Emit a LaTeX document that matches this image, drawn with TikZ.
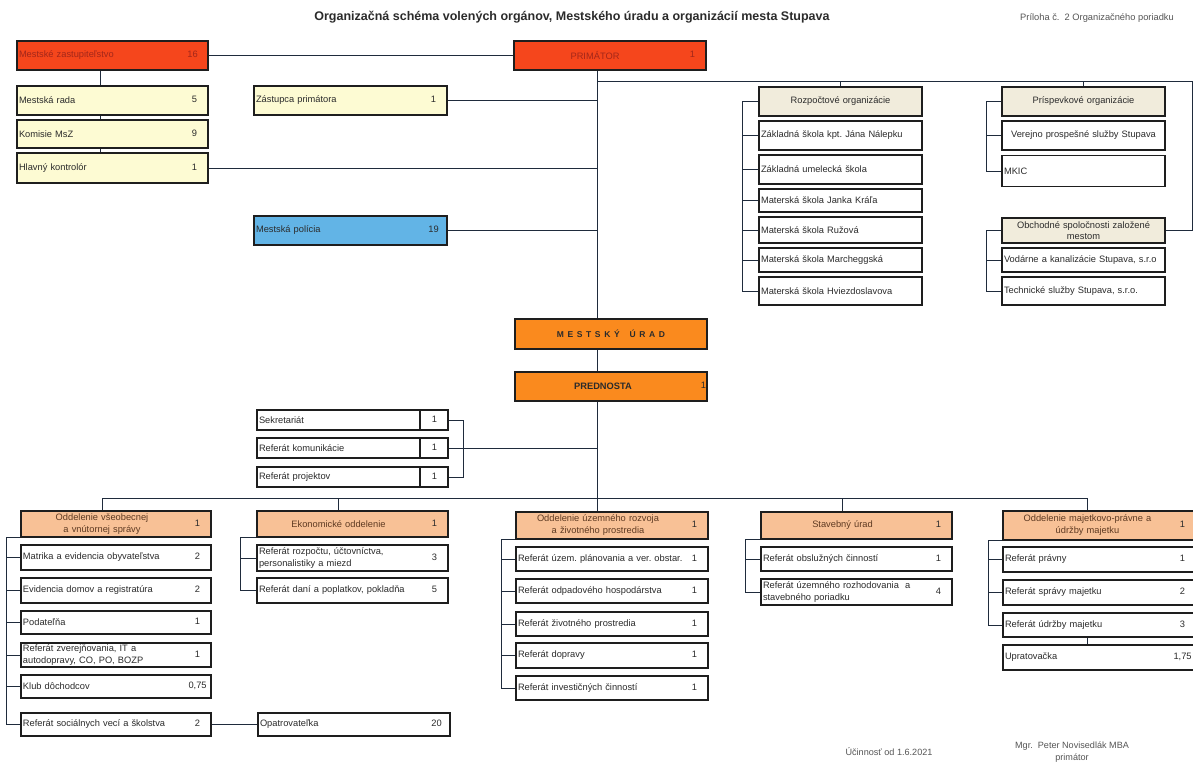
\documentclass[tikz,border=0pt]{standalone}
\usepackage{fontspec}
\setmainfont{Liberation Sans}
\frenchspacing
\definecolor{redfill}{HTML}{F5461C}
\definecolor{redtxt}{HTML}{A3271A}
\definecolor{yelfill}{HTML}{FDFBD3}
\definecolor{bluefill}{HTML}{62B4E6}
\definecolor{orgfill}{HTML}{FA8A1E}
\definecolor{hdrfill}{HTML}{F1ECDC}
\definecolor{depfill}{HTML}{F8C196}
\definecolor{deptxt}{HTML}{5E3A22}
\definecolor{txt}{HTML}{2B2B2B}
\definecolor{edge}{HTML}{1E1E1E}
\definecolor{linec}{HTML}{1F2B3C}
\definecolor{note}{HTML}{555555}
\tikzset{
  ubox/.style={draw=edge, line width=1.1pt, inner xsep=2pt, inner ysep=0pt,
               font=\fontsize{9.3}{11.5}\selectfont, text=txt, align=left},
  bw/.style={text width=#1pt-4pt},
  bh/.style={minimum height=#1pt},
  shl/.style={execute at begin node={\leftskip=0pt plus 1fil\rightskip=#1pt plus 1fil\parfillskip=0pt}},
  rbox/.style={ubox, fill=redfill, text=redtxt},
  ybox/.style={ubox, fill=yelfill},
  bbox/.style={ubox, fill=bluefill},
  obox/.style={ubox, fill=orgfill, align=center},
  hdbox/.style={ubox, fill=hdrfill, align=center},
  dbox/.style={ubox, fill=depfill, text=deptxt, align=center, shl=28,
               font=\fontsize{9.3}{12}\selectfont},
  wbox/.style={ubox, fill=white},
  numcell/.style={path picture={\draw[edge, line width=1.1pt]
      ([xshift=-28pt]path picture bounding box.north east) --
      ([xshift=-28pt]path picture bounding box.south east);}},
  num/.style={anchor=center, xshift=-14pt, yshift=1pt, inner sep=0pt, text=txt,
              font=\fontsize{9.3}{10.5}\selectfont},
  link/.style={draw=linec, line width=1pt},
}
\begin{document}
\begin{tikzpicture}[x=1pt, y=-1pt]
\useasboundingbox[fill=white] (0,0) rectangle (1193,764);
%
  \node [font=\fontsize{12.5}{14}\selectfont\bfseries, text=txt] at (572,17) (title) {Organizačná schéma volených orgánov, Mestského úradu a organizácií mesta Stupava};
  \node [font=\fontsize{9.3}{11}\selectfont, text=note] at (1097,18) (priloha) {Príloha č.~~2 Organizačného poriadku};
%
     \node [rbox, bw=191, bh=29, label={[num, text=redtxt, xshift=-2pt]east:16}] at (112.5,55.5) (zast) {Mestské zastupiteľstvo};
     \node [rbox, bw=192, bh=29, align=center, shl=30, label={[num, text=redtxt]east:1}] at (610,55.5) (prim) {PRIMÁTOR};
       \node [ybox, bw=191, bh=29, label={[num]east:5}] at (112.5,100.5) (rada) {Mestská rada};
       \node [ybox, bw=191, bh=28, label={[num]east:9}] at (112.5,134) (komis) {Komisie MsZ};
       \node [ybox, bw=191, bh=30, label={[num]east:1}] at (112.5,168) (kontr) {Hlavný kontrolór};
       \node [ybox, bw=193, bh=29, label={[num]east:1}] at (350.5,100.5) (zastup) {Zástupca primátora};
       \node [bbox, bw=193, bh=29, label={[num]east:19}] at (350.5,230.5) (polic) {Mestská polícia};
%
         \node [hdbox, bw=163, bh=29] at (840.5,101.5) (rozp) {Rozpočtové organizácie};
         \node [wbox, bw=163, bh=29] at (840.5,135.5) (zs1) {Základná škola kpt. Jána Nálepku};
         \node [wbox, bw=163, bh=29] at (840.5,169.5) (zus) {Základná umelecká škola};
         \node [wbox, bw=163, bh=23] at (840.5,200.5) (ms1) {Materská škola Janka Kráľa};
         \node [wbox, bw=163, bh=26] at (840.5,230) (ms2) {Materská škola Ružová};
         \node [wbox, bw=163, bh=24] at (840.5,260) (ms3) {Materská škola Marcheggská};
         \node [wbox, bw=163, bh=28] at (840.5,291) (ms4) {Materská škola Hviezdoslavova};
%
         \node [hdbox, bw=163, bh=29] at (1083.5,101.5) (prisp) {Príspevkové organizácie};
         \node [wbox, bw=163, bh=29, align=center] at (1083.5,135.5) (vps) {Verejno prospešné služby Stupava};
         \node [wbox, bw=163, bh=31] at (1083.5,171) (mkic) {MKIC};
         \node [hdbox, bw=163, bh=25] at (1083.5,230.5) (obch) {Obchodné spoločnosti založené\\mestom};
         \node [wbox, bw=163, bh=24] at (1083.5,260) (vod) {Vodárne a kanalizácie Stupava, s.r.o};
         \node [wbox, bw=163, bh=28] at (1083.5,291) (tech) {Technické služby Stupava, s.r.o.};
%
   \node [obox, bw=192, bh=30] at (611,334) (mu) {\bfseries\fontsize{8.5}{10}\selectfont\spaceskip=3.6pt M E S T S K Ý\hspace{10pt}Ú R A D};
   \node [obox, bw=192, bh=29, shl=16, label={[num, xshift=10pt]east:1}] at (611,386.5) (pred) {\bfseries PREDNOSTA};
   \node [wbox, numcell, bw=191, bh=20, label={[num]east:1}] at (352.5,420) (sekr) {Sekretariát};
   \node [wbox, numcell, bw=191, bh=20, label={[num]east:1}] at (352.5,448) (komun) {Referát komunikácie};
   \node [wbox, numcell, bw=191, bh=20, label={[num]east:1}] at (352.5,477) (proj) {Referát projektov};
%
  \node [dbox, bw=190, bh=26, label={[num]east:1}] at (116,524) (odd1) {Oddelenie všeobecnej\\a vnútornej správy};
  \node [wbox, bw=190, bh=25, label={[num]east:2}] at (116,557.5) (matr) {Matrika a evidencia obyvateľstva};
  \node [wbox, bw=190, bh=25, label={[num]east:2}] at (116,590.5) (evid) {Evidencia domov a registratúra};
  \node [wbox, bw=190, bh=23, label={[num]east:1}] at (116,622.5) (podat) {Podateľňa};
  \node [wbox, bw=190, bh=24, label={[num]east:1}] at (116,655) (zver) {Referát zverejňovania, IT a\\autodopravy, CO, PO, BOZP};
  \node [wbox, bw=190, bh=23, label={[num]east:{0,75}}] at (116,686.5) (klub) {Klub dôchodcov};
  \node [wbox, bw=190, bh=23, label={[num]east:2}] at (116,724.5) (soc) {Referát sociálnych vecí a školstva};
%
  \node [dbox, bw=191, bh=26, label={[num]east:1}] at (352.5,524) (ekon) {Ekonomické oddelenie};
  \node [wbox, bw=191, bh=26, label={[num]east:3}] at (352.5,558) (rozpr) {Referát rozpočtu, účtovníctva,\\personalistiky a miezd};
  \node [wbox, bw=191, bh=25, label={[num]east:5}] at (352.5,590.5) (dane) {Referát daní a poplatkov, pokladňa};
  \node [wbox, bw=192, bh=23, label={[num]east:20}] at (354,724.5) (opatr) {Opatrovateľka};
%
  \node [dbox, bw=192, bh=27, label={[num]east:1}] at (612,525.5) (uzem) {Oddelenie územného rozvoja\\a životného prostredia};
  \node [wbox, bw=192, bh=24, label={[num]east:1}] at (612,559) (u1) {Referát územ. plánovania a ver. obstar.};
  \node [wbox, bw=192, bh=24, label={[num]east:1}] at (612,591) (u2) {Referát odpadového hospodárstva};
  \node [wbox, bw=192, bh=24, label={[num]east:1}] at (612,624) (u3) {Referát životného prostredia};
  \node [wbox, bw=192, bh=25, label={[num]east:1}] at (612,655.5) (u4) {Referát dopravy};
  \node [wbox, bw=192, bh=24, label={[num]east:1}] at (612,688) (u5) {Referát investičných činností};
%
  \node [dbox, bw=191, bh=27, label={[num]east:1}] at (856.5,525.5) (stav) {Stavebný úrad};
  \node [wbox, bw=191, bh=24, label={[num]east:1}] at (856.5,559) (s1) {Referát obslužných činností};
  \node [wbox, bw=191, bh=26, label={[num]east:4}] at (856.5,592) (s2) {Referát územného rozhodovania~~a\\stavebného poriadku};
%
  \node [dbox, bw=197, bh=29, label={[num, xshift=-4pt]east:1}] at (1101.5,525.5) (maj) {Oddelenie majetkovo-právne a\\údržby majetku};
  \node [wbox, bw=197, bh=25, label={[num, xshift=-4pt]east:1}] at (1101.5,559.5) (m1) {Referát právny};
  \node [wbox, bw=197, bh=25, label={[num, xshift=-4pt]east:2}] at (1101.5,592.5) (m2) {Referát správy majetku};
  \node [wbox, bw=197, bh=24, label={[num, xshift=-4pt]east:3}] at (1101.5,625) (m3) {Referát údržby majetku};
  \node [wbox, bw=197, bh=25, label={[num, xshift=-4pt]east:{1,75}}] at (1101.5,657.5) (upr) {Upratovačka};
%
  \node [font=\fontsize{9.1}{11}\selectfont, text=note] at (889,752) (ucin) {Účinnosť od 1.6.2021};
  \node [font=\fontsize{9.1}{12}\selectfont, text=note, align=center] at (1072,752) (podpis) {Mgr.~~Peter Novisedlák MBA\\primátor};
%
\coordinate (trunk) at (597,0);
\coordinate (rtop) at (1192,81);
%
\draw[link] (zast) -- (prim);
\draw[link] ([xshift=-12pt]zast.south) -- ([xshift=-12pt]rada.north);
\draw[link] ([xshift=-12pt]rada.south) -- ([xshift=-12pt]komis.north);
\draw[link] ([xshift=-12pt]komis.south) -- ([xshift=-12pt]kontr.north);
\draw[link] (prim.south -| trunk) -- (mu.north -| trunk);
\draw[link] (mu.south -| trunk) -- (pred.north -| trunk);
\draw[link] (pred.south -| trunk) -- (uzem.north -| trunk);
\draw[link] (zastup.east) -- (zastup.east -| trunk);
\draw[link] (kontr.east) -- (kontr.east -| trunk);
\draw[link] (polic.east) -- (polic.east -| trunk);
\draw[link] (trunk |- rtop) -- (rtop) |- (obch.east);
\draw[link] (rozp.north) -- (rozp.north |- rtop);
\draw[link] (prisp.north) -- (prisp.north |- rtop);
%
\draw[link] (rozp.west) -- ++(-16,0) |- (ms4.west);
\foreach \n in {zs1,zus,ms1,ms2,ms3} \draw[link] (\n.west) -- ++(-16,0);
\draw[link] (prisp.west) -- ++(-15,0) |- (mkic.west);
\draw[link] (vps.west) -- ++(-15,0);
\draw[link] (obch.west) -- ++(-15,0) |- (tech.west);
\draw[link] (vod.west) -- ++(-15,0);
%
\draw[link] (sekr.east) -- ++(15,0) |- (proj.east);
\draw[link] (komun.east) -- (komun.east -| trunk);
%
\draw[link] ([xshift=-14pt]odd1.north) -- ++(0,-12) -| ([xshift=-14pt]maj.north);
\draw[link] ([xshift=-14pt]ekon.north) -- ++(0,-12);
\draw[link] ([xshift=-14pt]stav.north) -- ++(0,-12);
%
\draw[link] (odd1.south west) -- ++(-14,0) |- (soc.west);
\foreach \n in {matr,evid,podat,zver,klub} \draw[link] (\n.west) -- ++(-14,0);
\draw[link] (soc) -- (opatr);
\draw[link] (ekon.south west) -- ++(-16,0) |- (dane.west);
\draw[link] (rozpr.west) -- ++(-16,0);
\draw[link] (uzem.south west) -- ++(-14,0) |- (u5.west);
\foreach \n in {u1,u2,u3,u4} \draw[link] (\n.west) -- ++(-14,0);
\draw[link] (stav.south west) -- ++(-15,0) |- (s2.west);
\draw[link] (s1.west) -- ++(-15,0);
\draw[link] (maj.south west) -- ++(-14,0) |- (m3.west);
\foreach \n in {m1,m2} \draw[link] (\n.west) -- ++(-14,0);
\draw[link] ([xshift=-14pt]m3.south) -- ([xshift=-14pt]upr.north);
\end{tikzpicture}
\end{document}
